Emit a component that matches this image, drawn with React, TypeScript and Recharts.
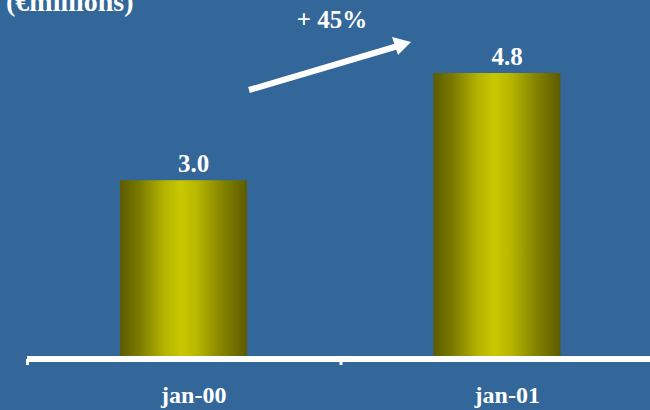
import { BarChart, Bar, XAxis, YAxis, LabelList } from 'recharts';

const periods = ['jan-00', 'jan-01'];
const revenue = [3.0, 4.8];
const unitLabel = '(€millions)';
const growthLabel = '+ 45%';

const data = periods.map((p, i) => ({ period: p, value: revenue[i] }));

const FONT = '"Liberation Serif", "Times New Roman", serif';
const BG = '#336699';

function PeriodTick(props: any) {
  const { x, y, payload } = props;
  const half = payload.offset ?? 0;
  return (
    <g>
      <rect x={x - half - 1} y={y} width={3} height={6} fill="#fff" />
      <text x={x + 10} y={y + 44} textAnchor="middle" fill="#fff" fontFamily={FONT} fontWeight="bold" fontSize={24}>
        {payload.value}
      </text>
    </g>
  );
}

function ValueLabel(props: any) {
  const { x, y, width, value } = props;
  return (
    <text x={x + width / 2 + 10} y={y - 8} textAnchor="middle" fill="#fff" fontFamily={FONT} fontWeight="bold" fontSize={25}>
      {Number(value).toFixed(1)}
    </text>
  );
}

export default function App() {
  return (
    <div style={{ position: 'fixed', left: 0, top: 0, width: 650, height: 410, overflow: 'hidden', background: BG }}>
      <BarChart width={660} height={410} data={data} margin={{ top: 61, right: 6, left: 27, bottom: 0 }}>
        <defs>
          <linearGradient id="barShade" x1="0" y1="0" x2="1" y2="0">
            <stop offset="0%" stopColor="#5c5c00" />
            <stop offset="15%" stopColor="#7a7a00" />
            <stop offset="35%" stopColor="#b4b400" />
            <stop offset="48%" stopColor="#c8c800" />
            <stop offset="60%" stopColor="#b8b800" />
            <stop offset="80%" stopColor="#858500" />
            <stop offset="100%" stopColor="#5c5c00" />
          </linearGradient>
        </defs>
        <YAxis hide width={0} domain={[0, 5]} />
        <XAxis
          dataKey="period"
          height={51}
          axisLine={{ stroke: '#fff', strokeWidth: 6 }}
          tickLine={false}
          tickSize={0}
          tickMargin={0}
          tick={<PeriodTick />}
          interval={0}
        />
        <Bar dataKey="value" barSize={127} fill="url(#barShade)" isAnimationActive={false}>
          <LabelList dataKey="value" content={<ValueLabel />} />
        </Bar>
      </BarChart>
      <svg width={650} height={410} style={{ position: 'absolute', left: 0, top: 0, pointerEvents: 'none' }}>
        <text x={6} y={11} fill="#fff" fontFamily={FONT} fontWeight="bold" fontSize={28}>
          {unitLabel}
        </text>
        <text x={332} y={28} textAnchor="middle" fill="#fff" fontFamily={FONT} fontWeight="bold" fontSize={25}>
          {growthLabel}
        </text>
        <line x1={249} y1={90} x2={398} y2={46} stroke="#fff" strokeWidth={6} />
        <polygon points="411,42 392,37 398,55" fill="#fff" />
      </svg>
    </div>
  );
}
